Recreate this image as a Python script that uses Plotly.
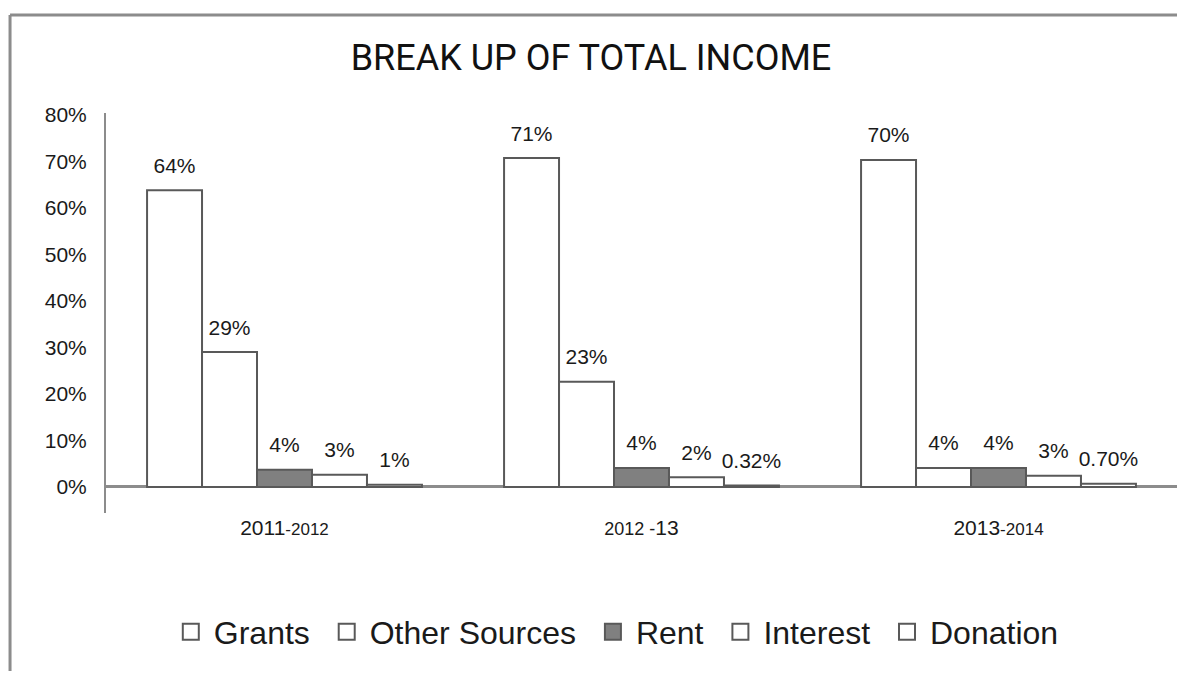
import plotly.graph_objects as go

years = ["2011<span style='font-size:17px'>-2012</span>",
         "<span style='font-size:18px'>2012 -</span>13",
         "2013<span style='font-size:17px'>-2014</span>"]

grants = [0.638, 0.707, 0.703]
other_sources = [0.29, 0.226, 0.041]
rent = [0.037, 0.041, 0.041]
interest = [0.026, 0.021, 0.024]
donation = [0.005, 0.0032, 0.007]

grants_lbl = ["64%", "71%", "70%"]
other_lbl = ["29%", "23%", "4%"]
rent_lbl = ["4%", "4%", "4%"]
interest_lbl = ["3%", "2%", "3%"]
donation_lbl = ["1%", "0.32%", "0.70%"]

series = [
    ("Grants", grants, grants_lbl, "white"),
    ("Other Sources", other_sources, other_lbl, "white"),
    ("Rent", rent, rent_lbl, "#808080"),
    ("Interest", interest, interest_lbl, "white"),
    ("Donation", donation, donation_lbl, "white"),
]
edge = "#595959"

fig = go.Figure()
for name, vals, lbl, fill in series:
    fig.add_trace(go.Bar(
        x=years, y=vals, name=name, offsetgroup=name, showlegend=False,
        marker=dict(color=fill, line=dict(color=edge, width=2)),
    ))
# value labels, grouped the same way as the bars
for name, vals, lbl, fill in series:
    fig.add_trace(go.Scatter(
        x=years, y=vals, text=lbl, mode="markers+text", textposition="top center",
        offsetgroup=name, showlegend=False, hoverinfo="skip", cliponaxis=False,
        marker=dict(size=18, opacity=0),
        textfont=dict(size=21, color="#1a1a1a"),
    ))
# legend entries with bigger squares (trailing space widens the gap between items)
for i, (name, vals, lbl, fill) in enumerate(series):
    fig.add_trace(go.Scatter(
        x=[None], y=[None], name=name if i == len(series) - 1 else name + " ", mode="markers",
        marker=dict(symbol="square", size=16, color=fill, line=dict(color=edge, width=2)),
    ))

# outer frame (top and left edges only)
fig.add_shape(type="line", xref="paper", yref="paper", x0=-0.0896, x1=1.02, y0=1.245, y1=1.245,
              line=dict(color="#8c8c8c", width=3))
fig.add_shape(type="line", xref="paper", yref="paper", x0=-0.0896, x1=-0.0896, y0=1.245, y1=-0.45,
              line=dict(color="#8c8c8c", width=3))

fig.update_layout(
    width=1169, height=663,
    paper_bgcolor="white", plot_bgcolor="white",
    font=dict(family="Liberation Sans, Arial, sans-serif", color="#1a1a1a"),
    margin=dict(l=98, r=0, t=105, b=158),
    barmode="group", bargap=0.23, bargroupgap=0,
    scattermode="group", scattergap=0.23,
    title=dict(text="BREAK UP OF TOTAL INCOME", x=0.4987, xref="container", xanchor="center",
               y=0.926, yanchor="middle",
               font=dict(size=36, family="Roboto, sans-serif", color="#111")),
    showlegend=True,
    legend=dict(orientation="h", x=0.476, xanchor="center", y=-0.2975, yanchor="middle",
                font=dict(size=32), itemwidth=36, traceorder="normal"),
)
fig.update_yaxes(range=[-0.056, 0.804], tickvals=[0, 0.1, 0.2, 0.3, 0.4, 0.5, 0.6, 0.7, 0.8],
                 tickformat=".0%", showgrid=False, showline=True, linecolor="#8c8c8c", linewidth=2,
                 zeroline=True, zerolinecolor="#8c8c8c", zerolinewidth=3,
                 ticks="", ticklabelstandoff=13, tickfont=dict(size=21))
fig.update_xaxes(showline=False, showgrid=False, ticks="", tickfont=dict(size=21),
                 ticklabelstandoff=0)

fig.write_html("out.html")
